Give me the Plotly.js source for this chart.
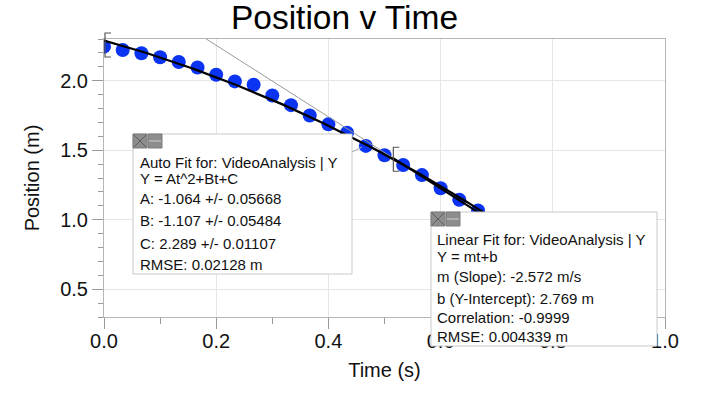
<!DOCTYPE html>
<html><head><meta charset="utf-8">
<script src="https://cdn.plot.ly/plotly-3.0.1.min.js"></script>
<style>html,body{margin:0;padding:0;background:#fff}</style>
</head><body><div id="chart" style="width:707px;height:395px"></div>
<script>
// ---- data ----
const time = [0, 0.0333, 0.0667, 0.1, 0.1333, 0.1667, 0.2, 0.2333, 0.2667, 0.3, 0.3333,
              0.3667, 0.4, 0.4333, 0.4667, 0.5, 0.5333, 0.5667, 0.6, 0.6333, 0.6667];
const position = [2.245, 2.221, 2.198, 2.169, 2.134, 2.095, 2.043, 1.995, 1.971, 1.893, 1.824,
                  1.750, 1.686, 1.626, 1.531, 1.464, 1.393, 1.321, 1.226, 1.143, 1.066];
const quadCoefs = [-1.064, -1.107, 2.289];   // A, B, C
const linCoefs = [-2.572, 2.769];            // m, b
const quadFitRange = [0, 0.7];
const linFitRange = [0.514, 0.7];
const linExtRange = [0, 1];
const bracketT = [0, 0.514];
const bracketY = [2.257, 1.435];
const autoFitText = ["Auto Fit for: VideoAnalysis | Y", "Y = At^2+Bt+C", "A: -1.064 +/- 0.05668",
                     "B: -1.107 +/- 0.05484", "C: 2.289 +/- 0.01107", "RMSE: 0.02128 m"];
const linFitText = ["Linear Fit for: VideoAnalysis | Y", "Y = mt+b", "m (Slope): -2.572 m/s",
                    "b (Y-Intercept): 2.769 m", "Correlation: -0.9999", "RMSE: 0.004339 m"];
const xRange = [0, 1];
const yRange = [0.3, 2.3];

// ---- helpers ----
function sample(r, n, f) { const xs = [], ys = []; for (let i = 0; i <= n; i++) { const t = r[0] + (r[1]-r[0])*i/n; xs.push(t); ys.push(f(t)); } return {xs, ys}; }
const quad = t => quadCoefs[0]*t*t + quadCoefs[1]*t + quadCoefs[2];
const lin = t => linCoefs[0]*t + linCoefs[1];
const qS = sample(quadFitRange, 100, quad);
const lS = sample(linFitRange, 10, lin);
const eS = sample(linExtRange, 10, lin);

const W = 707, H = 395, L = 104, R = 665, T = 39, B = 317;
const px = x => (x - L) / (R - L);
const py = y => (B - y) / (B - T);
const FONT = 'Liberation Sans, Arial, sans-serif';

const traces = [
  {x: time, y: position, type: 'scatter', mode: 'markers', marker: {size: 14, color: '#0a33f2'}, hoverinfo: 'x+y'},
  {x: eS.xs, y: eS.ys, type: 'scatter', mode: 'lines', line: {color: '#9a9a9a', width: 1}},
  {x: qS.xs, y: qS.ys, type: 'scatter', mode: 'lines', line: {color: '#000', width: 2.3}},
  {x: lS.xs, y: lS.ys, type: 'scatter', mode: 'lines', line: {color: '#000', width: 2}}
];

const shapes = [];
const annotations = [];
function box(x0, y0, x1, y1, lines, tx, tys) {
  shapes.push({type: 'rect', xref: 'paper', yref: 'paper', x0: px(x0), x1: px(x1), y0: py(y0), y1: py(y1),
    fillcolor: '#fff', line: {color: '#c9c9c9', width: 1}, layer: 'above'});
  // icons
  shapes.push({type: 'rect', xref: 'paper', yref: 'paper', x0: px(x0), x1: px(x0+14), y0: py(y0), y1: py(y0+14),
    fillcolor: '#8d8d8d', line: {color: '#7c7c7c', width: 1}, layer: 'above'});
  shapes.push({type: 'path', xref: 'paper', yref: 'paper',
    path: `M ${px(x0+1)} ${py(y0+1)} L ${px(x0+13)} ${py(y0+13)} M ${px(x0+13)} ${py(y0+1)} L ${px(x0+1)} ${py(y0+13)}`,
    line: {color: '#5f5f5f', width: 1}, layer: 'above'});
  shapes.push({type: 'rect', xref: 'paper', yref: 'paper', x0: px(x0+15), x1: px(x0+29), y0: py(y0), y1: py(y0+14),
    fillcolor: '#8d8d8d', line: {color: '#7c7c7c', width: 1}, layer: 'above'});
  shapes.push({type: 'line', xref: 'paper', yref: 'paper', x0: px(x0+16), x1: px(x0+28), y0: py(y0+7), y1: py(y0+7),
    line: {color: '#cfcfcf', width: 1}, layer: 'above'});
  lines.forEach((s, i) => annotations.push({text: s, xref: 'paper', yref: 'paper', x: px(tx), y: py(tys[i]),
    xanchor: 'left', yanchor: 'middle', showarrow: false, font: {family: FONT, size: 15, color: '#111'}}));
}
box(133, 134, 352, 274, autoFitText, 138, [162, 178, 198, 220, 243, 264]);
box(431, 212, 657, 346, linFitText, 435, [239, 256, 276, 298, 317, 336]);

// leader line from auto-fit box
shapes.push({type: 'line', xref: 'paper', yref: 'paper', x0: px(352), y0: py(152), x1: px(362), y1: py(147),
  line: {color: '#aaaaaa', width: 1}, layer: 'above'});

// fit-range brackets
const yp = v => (v - yRange[0]) / (yRange[1] - yRange[0]);
bracketT.forEach((t, i) => shapes.push({type: 'path', xref: 'x', yref: 'paper', xsizemode: 'pixel', ysizemode: 'pixel',
  xanchor: t, yanchor: yp(bracketY[i]), path: 'M 7 12 L 1 12 L 1 -12 L 7 -12',
  line: {color: '#555', width: 1.2}, layer: 'above'}));

const axisCommon = {
  showline: true, mirror: true, linecolor: '#b5b5b5', linewidth: 1,
  gridcolor: '#e6e6e6', gridwidth: 1, zeroline: false,
  ticks: 'outside', ticklen: 11, tickcolor: '#9a9a9a', tickwidth: 1,
  tickfont: {family: FONT, size: 20, color: '#111'}, tickformat: '.1f'
};
const layout = {
  width: W, height: H,
  margin: {l: L, r: W - R, t: T, b: H - B},
  paper_bgcolor: '#fff', plot_bgcolor: '#fff', showlegend: false,
  title: {text: 'Position v Time', x: 344.5 / W, xanchor: 'center', y: 1 - 17 / H, yanchor: 'middle',
    font: {family: FONT, size: 33.5, color: '#000'}},
  xaxis: Object.assign({}, axisCommon, {range: xRange, dtick: 0.2, tick0: 0, ticklabelstandoff: -5,
    minor: {dtick: 0.1, ticklen: 6, tickcolor: '#9a9a9a', ticks: 'outside', showgrid: false},
    title: {text: 'Time (s)', font: {family: FONT, size: 20, color: '#111'}, standoff: 11}}),
  yaxis: Object.assign({}, axisCommon, {range: yRange, dtick: 0.5, tick0: 0,
    minor: {dtick: 0.1, ticklen: 5, tickcolor: '#9a9a9a', ticks: 'outside', showgrid: false},
    title: {text: 'Position (m)', font: {family: FONT, size: 20, color: '#111'}, standoff: 15}}),
  shapes: shapes, annotations: annotations
};
Plotly.newPlot('chart', traces, layout, {displayModeBar: false, staticPlot: true});
</script></body></html>
